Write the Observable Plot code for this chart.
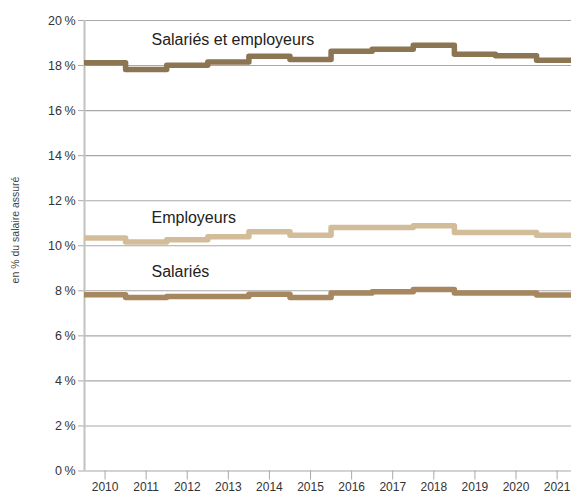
<!DOCTYPE html>
<html>
<head>
<meta charset="utf-8">
<script src="https://cdn.jsdelivr.net/npm/d3@7"></script>
<script src="https://cdn.jsdelivr.net/npm/@observablehq/plot@0.6"></script>
<style>
  html, body { margin: 0; padding: 0; background: #fff; }
  #chart svg { display: block; }
</style>
</head>
<body>
<div id="chart"></div>
<script>
const years = [2010, 2011, 2012, 2013, 2014, 2015, 2016, 2017, 2018, 2019, 2020, 2021];
const total      = [18.12, 17.83, 18.01, 18.16, 18.41, 18.27, 18.64, 18.72, 18.90, 18.50, 18.43, 18.24];
const employeurs = [10.34, 10.17, 10.27, 10.40, 10.62, 10.47, 10.81, 10.81, 10.89, 10.59, 10.59, 10.47];
const salaries   = [7.82, 7.70, 7.75, 7.75, 7.85, 7.70, 7.90, 7.96, 8.06, 7.90, 7.90, 7.81];
const seriesNames = ["Salariés et employeurs", "Employeurs", "Salariés"];
const seriesColors = ["#8c7553", "#d3bc9a", "#a7875f"];
const yTicks = [0, 2, 4, 6, 8, 10, 12, 14, 16, 18, 20];
const yTitle = "en % du salaire assuré";
const labelPos = [
  {name: "Salariés et employeurs", x: 2011.13, y: 19.13},
  {name: "Employeurs", x: 2011.13, y: 11.22},
  {name: "Salariés", x: 2011.13, y: 8.82}
];

function steps(vals, name) {
  const pts = years.map((yr, i) => ({x: yr - 0.5, y: vals[i], s: name}));
  pts.push({x: years[years.length - 1] + 0.5, y: vals[vals.length - 1], s: name});
  return pts;
}
const data = [
  ...steps(total, seriesNames[0]),
  ...steps(employeurs, seriesNames[1]),
  ...steps(salaries, seriesNames[2])
];

const font = "'Liberation Sans', Arial, sans-serif";

const chart = Plot.plot({
  width: 571,
  height: 495,
  marginLeft: 84,
  marginRight: 0,
  marginTop: 20,
  marginBottom: 24.5,
  style: {fontFamily: font, color: "#333", background: "#fff"},
  x: {domain: [2009.5, 2021.35], axis: null},
  y: {domain: [0, 20], axis: null},
  color: {domain: seriesNames, range: seriesColors},
  marks: [
    Plot.ruleY(yTicks, {stroke: "#a8a8a8", strokeWidth: 1.1, x1: 2009.5, x2: 2021.35}),
    Plot.axisY({
      ticks: yTicks, tickSize: 6, tickPadding: 3, stroke: "#a8a8a8",
      tickFormat: d => d + "\u2009%", fontSize: 12.5, fill: "#333", label: null
    }),
    Plot.axisX({
      ticks: years, tickSize: 9, tickPadding: 2, stroke: "#a8a8a8",
      tickFormat: d => String(d), fontSize: 12, fill: "#333", label: null
    }),
    Plot.ruleX([2009.5], {stroke: "#c2c2bd", strokeWidth: 2}),
    Plot.line(data, {
      x: "x", y: "y", z: "s", stroke: "s", curve: "step-after",
      strokeWidth: 5.5, clip: true
    }),
    Plot.text(labelPos, {
      x: "x", y: "y", text: "name", textAnchor: "start",
      fontSize: 16, fill: "#222"
    }),
    Plot.text([yTitle], {
      x: 2009.5, y: 10.7, dx: -69, rotate: -90, textAnchor: "middle",
      fontSize: 10.5, fill: "#444"
    })
  ]
});
document.getElementById("chart").appendChild(chart);
</script>
</body>
</html>
